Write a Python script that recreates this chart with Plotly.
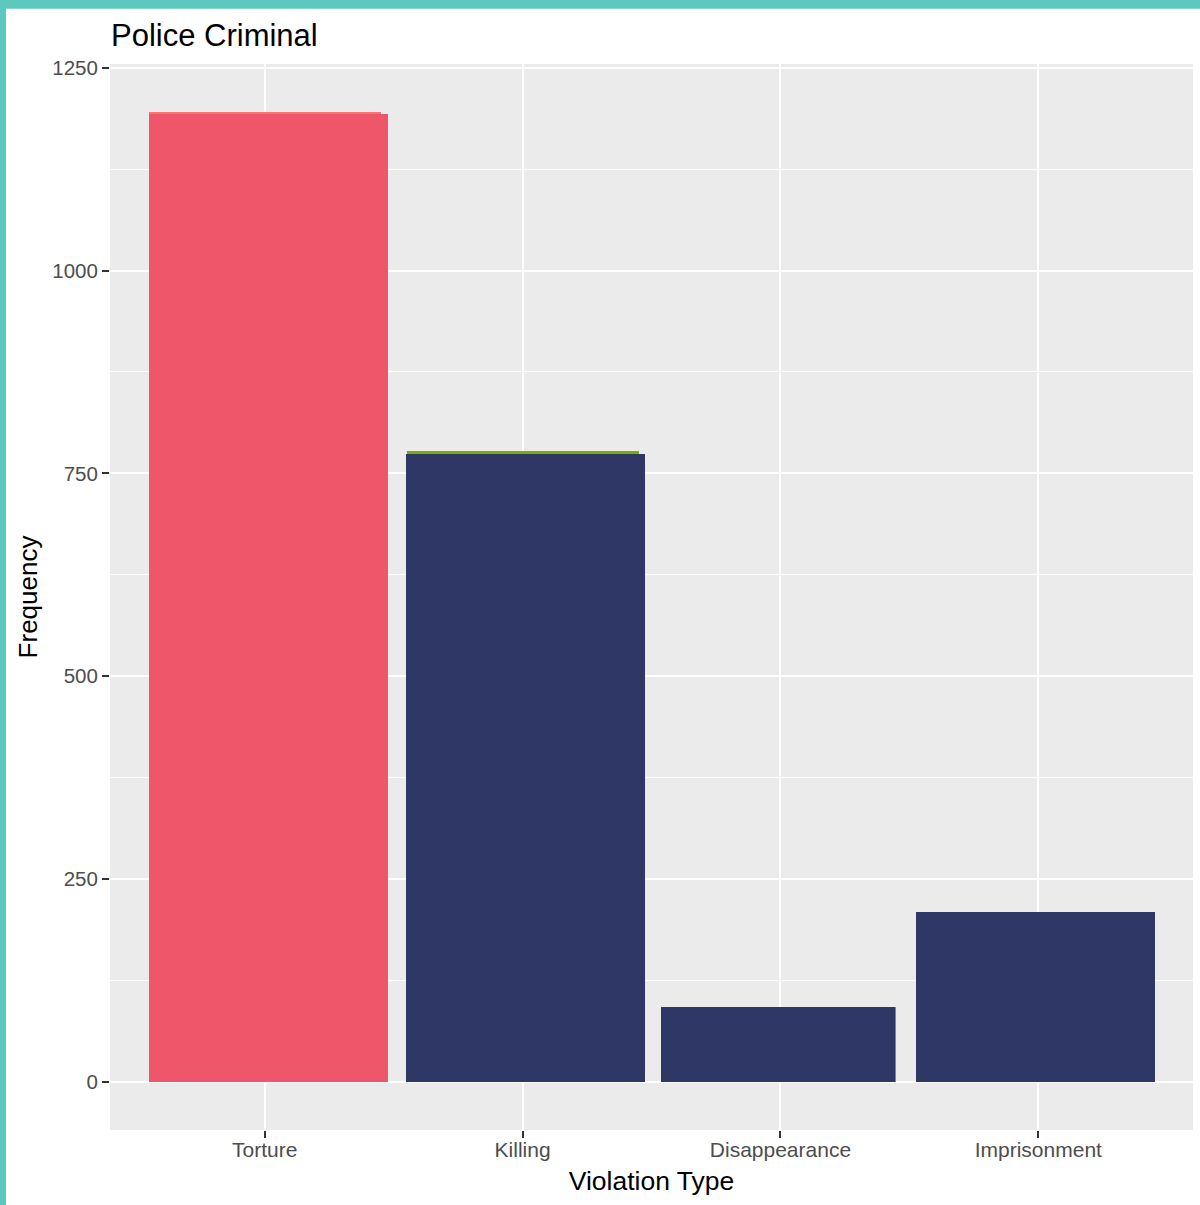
import plotly.graph_objects as go

# ---- data ----
categories = ["Torture", "Killing", "Disappearance", "Imprisonment"]
base_values = [1195, 778, 92, 209]          # underlying bars (default ggplot hues)
overlay_values = [1193, 774, 92.5, 209.6]   # foreground bars
y_ticks = [0, 250, 500, 750, 1000, 1250]
y_tick_labels = ["0", "250", "500", "750", "1000", "1250"]
y_minor = [125, 375, 625, 875, 1125]

base_colors = ["#F8766D", "#7CAE00", "#00BFC4", "#C77CFF"]
overlay_colors = ["#F0566A", "#2E3766", "#2E3766", "#2E3766"]

# ---- layout geometry ----
W, H = 1200, 1205
ml, mr, mt, mb = 110, 7, 64, 75
pw, ph = W - ml - mr, H - mt - mb
FONT = "Liberation Sans, Arial, Helvetica, sans-serif"
TEAL = "#5CC8C0"

xpos = [i + 1 for i in range(len(categories))]
ov_shift = [0.0147, 0.0113, -0.0095, -0.0109]
ov_width = [0.927, 0.927, 0.9075, 0.927]

fig = go.Figure()
fig.add_trace(go.Bar(
    x=xpos, y=base_values, width=0.9,
    marker=dict(color=base_colors, line=dict(width=0)),
    showlegend=False, hoverinfo="skip"))
fig.add_trace(go.Bar(
    x=[p + s for p, s in zip(xpos, ov_shift)], y=overlay_values, width=ov_width,
    marker=dict(color=overlay_colors, line=dict(width=0)),
    showlegend=False))

ymax = max(base_values)
pad = ymax * 0.05

def px_x(p):
    return (p - ml) / pw

def px_y(p):
    return (H - mb - p) / ph

shapes = [
    dict(type="rect", xref="paper", yref="paper",
         x0=px_x(0), x1=px_x(6), y0=px_y(H), y1=px_y(0),
         fillcolor=TEAL, line=dict(width=0), layer="above"),
    dict(type="rect", xref="paper", yref="paper",
         x0=px_x(0), x1=px_x(W), y0=px_y(8.7), y1=px_y(0),
         fillcolor=TEAL, line=dict(width=0), layer="above"),
]

fig.update_layout(
    width=W, height=H,
    margin=dict(l=ml, r=mr, t=mt, b=mb, autoexpand=False),
    paper_bgcolor="white", plot_bgcolor="#EBEBEB",
    barmode="overlay", bargap=0,
    font=dict(family=FONT, color="black"),
    title=dict(text="Police Criminal", x=111 / W, xref="container", xanchor="left",
               y=1 - 35 / H, yref="container", yanchor="middle",
               font=dict(size=31, color="black", family=FONT)),
    shapes=shapes,
    xaxis=dict(
        range=[0.4, len(categories) + 0.6],
        tickmode="array", tickvals=xpos, ticktext=categories,
        ticks="outside", ticklen=7, tickwidth=2.2, tickcolor="#333333",
        ticklabelstandoff=-6,
        tickfont=dict(size=21, color="#4D4D4D", family=FONT),
        showgrid=True, gridcolor="white", gridwidth=2.2,
        zeroline=False, showline=False,
        title=dict(text="Violation Type", font=dict(size=26.5, color="black", family=FONT),
                   standoff=11),
        automargin=False,
    ),
    yaxis=dict(
        range=[-pad, ymax + pad],
        tickmode="array", tickvals=y_ticks, ticktext=y_tick_labels,
        ticks="outside", ticklen=7, tickwidth=2.2, tickcolor="#333333",
        tickfont=dict(size=20.5, color="#4D4D4D", family=FONT),
        showgrid=True, gridcolor="white", gridwidth=2.2,
        minor=dict(tickvals=y_minor, showgrid=True, gridcolor="white", gridwidth=1.1, ticks=""),
        zeroline=False, showline=False,
        title=dict(text="Frequency", font=dict(size=26, color="black", family=FONT),
                   standoff=7),
        automargin=False,
    ),
)

fig.write_html("out.html", config={"displayModeBar": False},
               post_script="document.body.style.margin='0px';")
